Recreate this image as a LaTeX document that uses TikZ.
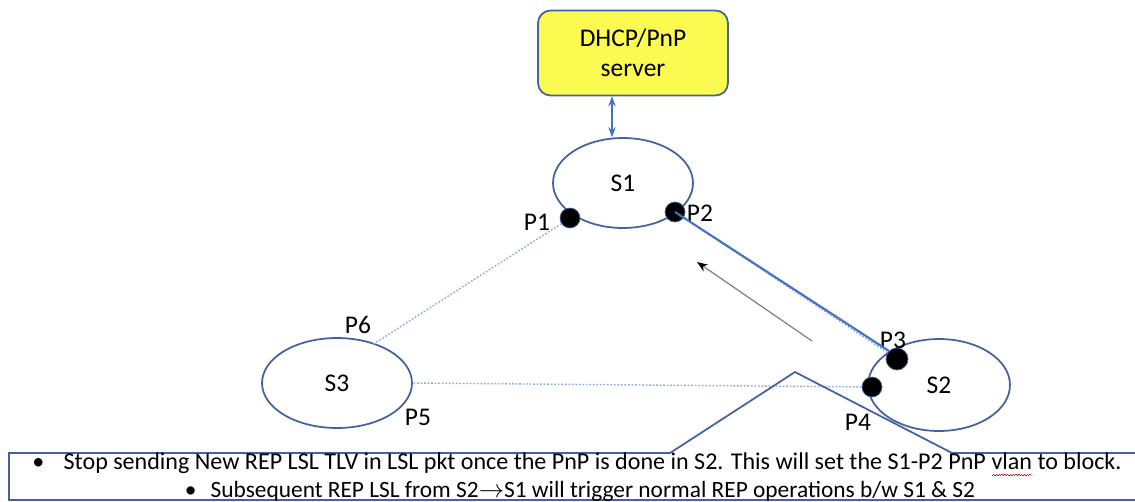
\documentclass[tikz,border=0pt]{standalone}
\usepackage{fontspec}
\setmainfont{Carlito}
\usetikzlibrary{arrows.meta, positioning, shapes.geometric}

\definecolor{swline}{RGB}{68,98,160}
\definecolor{linkblue}{RGB}{68,114,196}
\definecolor{linklight}{RGB}{143,170,220}
\definecolor{srvfill}{RGB}{250,250,80}

% red spell-check wave under a word
\newsavebox\spellbox
\newcommand\spellmark[1]{\sbox\spellbox{#1}\rlap{\raisebox{-3.4pt}{\color{red}\leaders\hbox{\rule{0.8pt}{0.4pt}\raisebox{0.6pt}{\rule{0.8pt}{0.4pt}}}\hskip\wd\spellbox}}#1}

\begin{document}
\begin{tikzpicture}[
    x=0.02cm, y=-0.02cm,
    >=Stealth,
    every node/.style={font=\fontsize{14.5}{17}\selectfont},
    switch/.style={draw=swline, line width=1pt, ellipse, inner sep=0pt},
    port/.style={draw=swline, fill=black, circle, inner sep=0pt, minimum size=0.4cm},
    plabel/.style={inner sep=0pt},
    notetext/.style={inner sep=0pt, anchor=base},
    vlanlink/.style={draw=linklight, line width=0.8pt, dash pattern=on 1pt off 1pt}
]
    \useasboundingbox (0,0) rectangle (1135,501);

    % server and switches
    \node[draw=swline, fill=srvfill, rounded corners=0.25cm, line width=1pt,
          minimum width=3.8cm, minimum height=1.7cm, align=center,
          font=\fontsize{14.5}{17}\selectfont] (srv) at (633,53) {DHCP/PnP\\server};
    \node[switch, minimum width=2.8cm, minimum height=1.8cm] (S1) at (623,183) {S1};
    \node[switch, minimum width=2.84cm, minimum height=1.84cm] (S2) at (939,385) {S2};
    \node[switch, minimum width=3.0cm, minimum height=1.8cm] (S3) at (337,383) {S3};

    % ports
    \node[port] (P1) at (570,218) {};
    \node[port] (P2) at (675,212) {};
    \node[port, minimum size=0.44cm] (P3) at (897,359) {};
    \node[port] (P4) at (872,387) {};
    \coordinate (P6pt) at (372,345);

    \node[plabel] (P1lbl) at (537,222) {P1};
    \node[plabel] (P2lbl) at (700,213) {P2};
    \node[plabel] (P3lbl) at (893,340) {P3};
    \node[plabel] (P4lbl) at (858,422) {P4};
    \node[plabel] (P5lbl) at (418,417) {P5};
    \node[plabel] (P6lbl) at (358,325) {P6};

    % links
    \draw[vlanlink] (P1) -- (P6pt);
    \draw[vlanlink] (P4) -- (S3.east);
    \draw[vlanlink] (P2) -- (P3);
    \draw[linkblue, line width=1.2pt] (P2.center) -- (P3.north west);
    \draw[<->, linkblue, line width=0.6pt] ([xshift=-0.42cm]srv.south) -- ([xshift=-0.42cm]srv.south |- S1.north);

    % LSL direction
    \coordinate (lslfrom) at (812,341);
    \coordinate (lslto) at (697,262);
    \draw[-{Stealth[black]}, gray, line width=0.7pt] (lslfrom) -- (lslto);

    % callout
    \coordinate (tip) at (795,372);
    \draw[swline, line width=1pt] (9,453) -- (670,453) -- (tip) -- (952,453) -- (1145,453)
        -- (1145,500) -- (9,500) -- cycle;
    \node[notetext, text depth=0.5pt, font=\fontsize{13.7}{16}\selectfont] (note1) at (577,469.5) {\textbullet\hspace{0.8em}Stop sending New REP LSL TLV in LSL pkt once the PnP is done in S2. This will set the S1-P2 PnP \spellmark{vlan} to block.};
    \node[notetext, text height=7pt, font=\fontsize{13.3}{16}\selectfont] (note2) at (580,497.5) {\textbullet\hspace{0.6em}Subsequent REP LSL from S2$\rightarrow$S1 will trigger normal REP operations b/w S1 \& S2};
\end{tikzpicture}
\end{document}
